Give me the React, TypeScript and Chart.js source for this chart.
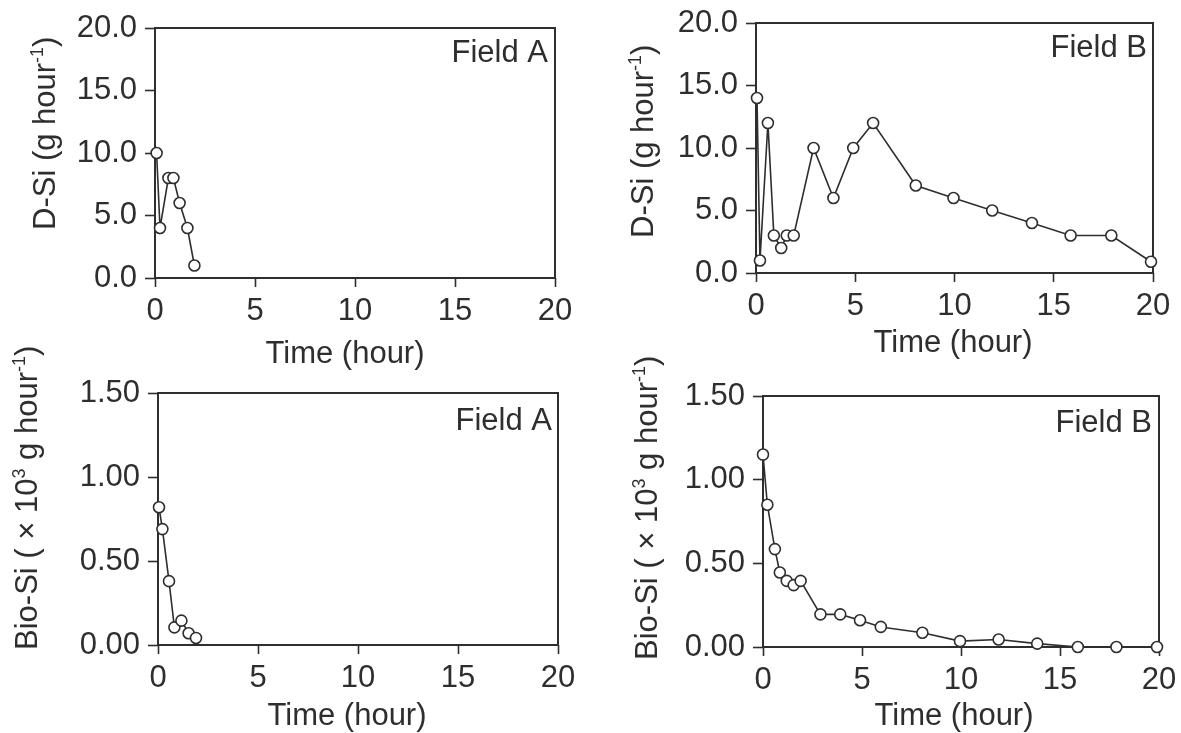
import React, { useEffect, useRef } from "react";
import { Chart, registerables } from "chart.js";

Chart.register(...registerables);

// ---------- data ----------
const TIME_TICKS = [0, 5, 10, 15, 20];
const DSI_TICKS = [0, 5, 10, 15, 20];
const BIOSI_TICKS = [0, 0.5, 1.0, 1.5];

const FIELD_A_DSI_TIME = [0.08, 0.25, 0.67, 0.92, 1.23, 1.62, 1.97];
const FIELD_A_DSI = [10, 4, 8, 8, 6, 4, 1];

const FIELD_B_DSI_TIME = [0.05, 0.2, 0.6, 0.9, 1.27, 1.55, 1.9, 2.9, 3.9, 4.9, 5.9, 8.05, 9.95, 11.9, 13.9, 15.85, 17.9, 19.9];
const FIELD_B_DSI = [14, 1, 12, 3, 2, 3, 3, 10, 6, 10, 12, 7, 6, 5, 4, 3, 3, 0.9];

const FIELD_A_BIOSI_TIME = [0.05, 0.22, 0.55, 0.82, 1.17, 1.53, 1.9];
const FIELD_A_BIOSI = [0.82, 0.69, 0.38, 0.105, 0.145, 0.07, 0.042];

const FIELD_B_BIOSI_TIME = [0.0, 0.22, 0.6, 0.85, 1.2, 1.55, 1.9, 2.9, 3.9, 4.9, 5.95, 8.05, 9.95, 11.9, 13.85, 15.9, 17.85, 19.9];
const FIELD_B_BIOSI = [1.15, 0.85, 0.585, 0.445, 0.395, 0.37, 0.395, 0.195, 0.195, 0.16, 0.12, 0.085, 0.035, 0.045, 0.02, 0, 0, 0];

const X_TITLE = "Time (hour)";
const DSI_TITLE = [
  { t: "D-Si (g hour", sup: false },
  { t: "-1", sup: true },
  { t: ")", sup: false },
];
const BIOSI_TITLE = [
  { t: "Bio-Si ( \u00d7 10", sup: false },
  { t: "3", sup: true },
  { t: " g hour", sup: false },
  { t: "-1", sup: true },
  { t: ")", sup: false },
];
const FIELD_A = "Field A";
const FIELD_B = "Field B";

// ---------- style ----------
const INK = "#2e2e2e";
const FONT_FAMILY = '"Liberation Sans", Arial, Helvetica, sans-serif';
const FONT_SIZE = 31;
const SUP_SIZE = 18;

type Part = { t: string; sup: boolean };

type Panel = {
  ox: number; oy: number; w: number; h: number;
  L: number; T: number; R: number; B: number;
  times: number[]; values: number[];
  yMax: number; yTicks: number[]; yDigits: number;
  yTitle: Part[]; yTitleStart: number; yTitleBase: number;
  xTitleCx: number; xTitleBase: number;
  field: string; fieldRight: number; fieldBase: number;
};

const PANELS: Panel[] = [
  {
    ox: 0, oy: 0, w: 590, h: 375,
    L: 155, T: 28, R: 555, B: 278,
    times: FIELD_A_DSI_TIME, values: FIELD_A_DSI,
    yMax: 20, yTicks: DSI_TICKS, yDigits: 1,
    yTitle: DSI_TITLE, yTitleStart: 230, yTitleBase: 55,
    xTitleCx: 345, xTitleBase: 363,
    field: FIELD_A, fieldRight: 548, fieldBase: 62,
  },
  {
    ox: 590, oy: 0, w: 591, h: 366,
    L: 756, T: 23, R: 1153, B: 273,
    times: FIELD_B_DSI_TIME, values: FIELD_B_DSI,
    yMax: 20, yTicks: DSI_TICKS, yDigits: 1,
    yTitle: DSI_TITLE, yTitleStart: 238, yTitleBase: 653,
    xTitleCx: 953, xTitleBase: 352,
    field: FIELD_B, fieldRight: 1147, fieldBase: 57,
  },
  {
    ox: 0, oy: 320, w: 590, h: 413,
    L: 158, T: 393, R: 558, B: 645,
    times: FIELD_A_BIOSI_TIME, values: FIELD_A_BIOSI,
    yMax: 1.5, yTicks: BIOSI_TICKS, yDigits: 2,
    yTitle: BIOSI_TITLE, yTitleStart: 650, yTitleBase: 37,
    xTitleCx: 347, xTitleBase: 725,
    field: FIELD_A, fieldRight: 552, fieldBase: 430,
  },
  {
    ox: 590, oy: 320, w: 591, h: 413,
    L: 763, T: 396, R: 1159, B: 647,
    times: FIELD_B_BIOSI_TIME, values: FIELD_B_BIOSI,
    yMax: 1.5, yTicks: BIOSI_TICKS, yDigits: 2,
    yTitle: BIOSI_TITLE, yTitleStart: 660, yTitleBase: 657,
    xTitleCx: 954, xTitleBase: 725,
    field: FIELD_B, fieldRight: 1152, fieldBase: 432,
  },
];

const font = (size: number) => `${size}px ${FONT_FAMILY}`;

function drawParts(ctx: CanvasRenderingContext2D, parts: Part[], x: number, y: number) {
  let cx = x;
  for (const p of parts) {
    ctx.font = font(p.sup ? SUP_SIZE : FONT_SIZE);
    ctx.fillText(p.t, cx, p.sup ? y - 12 : y);
    cx += ctx.measureText(p.t).width;
  }
}

function makePlugins(p: Panel) {
  const frame = {
    id: "frame",
    beforeDatasetsDraw(chart: any) {
      const { ctx, chartArea } = chart;
      ctx.save();
      ctx.strokeStyle = INK;
      ctx.lineWidth = 2;
      ctx.strokeRect(chartArea.left, chartArea.top, chartArea.right - chartArea.left, chartArea.bottom - chartArea.top);
      ctx.restore();
    },
  };
  const texts = {
    id: "texts",
    afterDraw(chart: any) {
      const ctx: CanvasRenderingContext2D = chart.ctx;
      ctx.save();
      ctx.fillStyle = INK;
      ctx.textBaseline = "alphabetic";
      ctx.font = font(FONT_SIZE);
      ctx.textAlign = "right";
      ctx.fillText(p.field, p.fieldRight - p.ox, p.fieldBase - p.oy);
      ctx.textAlign = "center";
      ctx.fillText(X_TITLE, p.xTitleCx - p.ox, p.xTitleBase - p.oy);
      ctx.translate(p.yTitleBase - p.ox, p.yTitleStart - p.oy);
      ctx.rotate(-Math.PI / 2);
      ctx.textAlign = "left";
      drawParts(ctx, p.yTitle, 0, 0);
      ctx.restore();
    },
  };
  return [frame, texts];
}

function PanelChart({ p }: { p: Panel }) {
  const ref = useRef<HTMLCanvasElement | null>(null);
  useEffect(() => {
    if (!ref.current) return;
    const tickFont = { family: FONT_FAMILY, size: FONT_SIZE };
    const chart = new Chart(ref.current, {
      type: "line",
      data: {
        datasets: [
          {
            data: p.times.map((t, i) => ({ x: t, y: p.values[i] })),
            borderColor: INK,
            borderWidth: 1.6,
            pointRadius: 5.5,
            pointBackgroundColor: "#ffffff",
            pointBorderColor: INK,
            pointBorderWidth: 1.6,
            tension: 0,
            clip: false as any,
          },
        ],
      },
      options: {
        animation: false,
        responsive: false,
        maintainAspectRatio: false,
        devicePixelRatio: 1,
        layout: { padding: { top: p.T - p.oy, right: p.ox + p.w - p.R, left: 0, bottom: 0 } },
        plugins: { legend: { display: false }, tooltip: { enabled: false }, title: { display: false } },
        scales: {
          x: {
            type: "linear",
            min: 0,
            max: 20,
            afterBuildTicks: (s: any) => {
              s.ticks = TIME_TICKS.map((v) => ({ value: v }));
            },
            afterFit: (s: any) => {
              s.height = p.oy + p.h - p.B;
              s.paddingLeft = 0;
              s.paddingRight = 0;
              s.paddingTop = 0;
              s.paddingBottom = 0;
            },
            grid: { display: true, drawOnChartArea: false, drawTicks: true, tickLength: 9, tickWidth: 1.6, tickColor: INK },
            border: { display: false },
            ticks: { font: tickFont, color: INK, padding: 6, maxRotation: 0, autoSkip: false, callback: (v: any) => String(v) },
          },
          y: {
            type: "linear",
            min: 0,
            max: p.yMax,
            afterBuildTicks: (s: any) => {
              s.ticks = p.yTicks.map((v) => ({ value: v }));
            },
            afterFit: (s: any) => {
              s.width = p.L - p.ox;
              s.paddingLeft = 0;
              s.paddingRight = 0;
              s.paddingTop = 0;
              s.paddingBottom = 0;
            },
            grid: { display: true, drawOnChartArea: false, drawTicks: true, tickLength: 10, tickWidth: 1.6, tickColor: INK },
            border: { display: false },
            ticks: { font: tickFont, color: INK, padding: 8, autoSkip: false, callback: (v: any) => Number(v).toFixed(p.yDigits) },
          },
        },
      } as any,
      plugins: makePlugins(p) as any,
    });
    return () => chart.destroy();
  }, [p]);
  return (
    <canvas
      ref={ref}
      width={p.w}
      height={p.h}
      style={{ position: "absolute", left: p.ox, top: p.oy, width: p.w, height: p.h }}
    />
  );
}

export default function App() {
  return (
    <div style={{ position: "absolute", left: 0, top: 0, width: 1181, height: 733, background: "#ffffff", overflow: "hidden" }}>
      {PANELS.map((p, i) => (
        <PanelChart key={i} p={p} />
      ))}
    </div>
  );
}
